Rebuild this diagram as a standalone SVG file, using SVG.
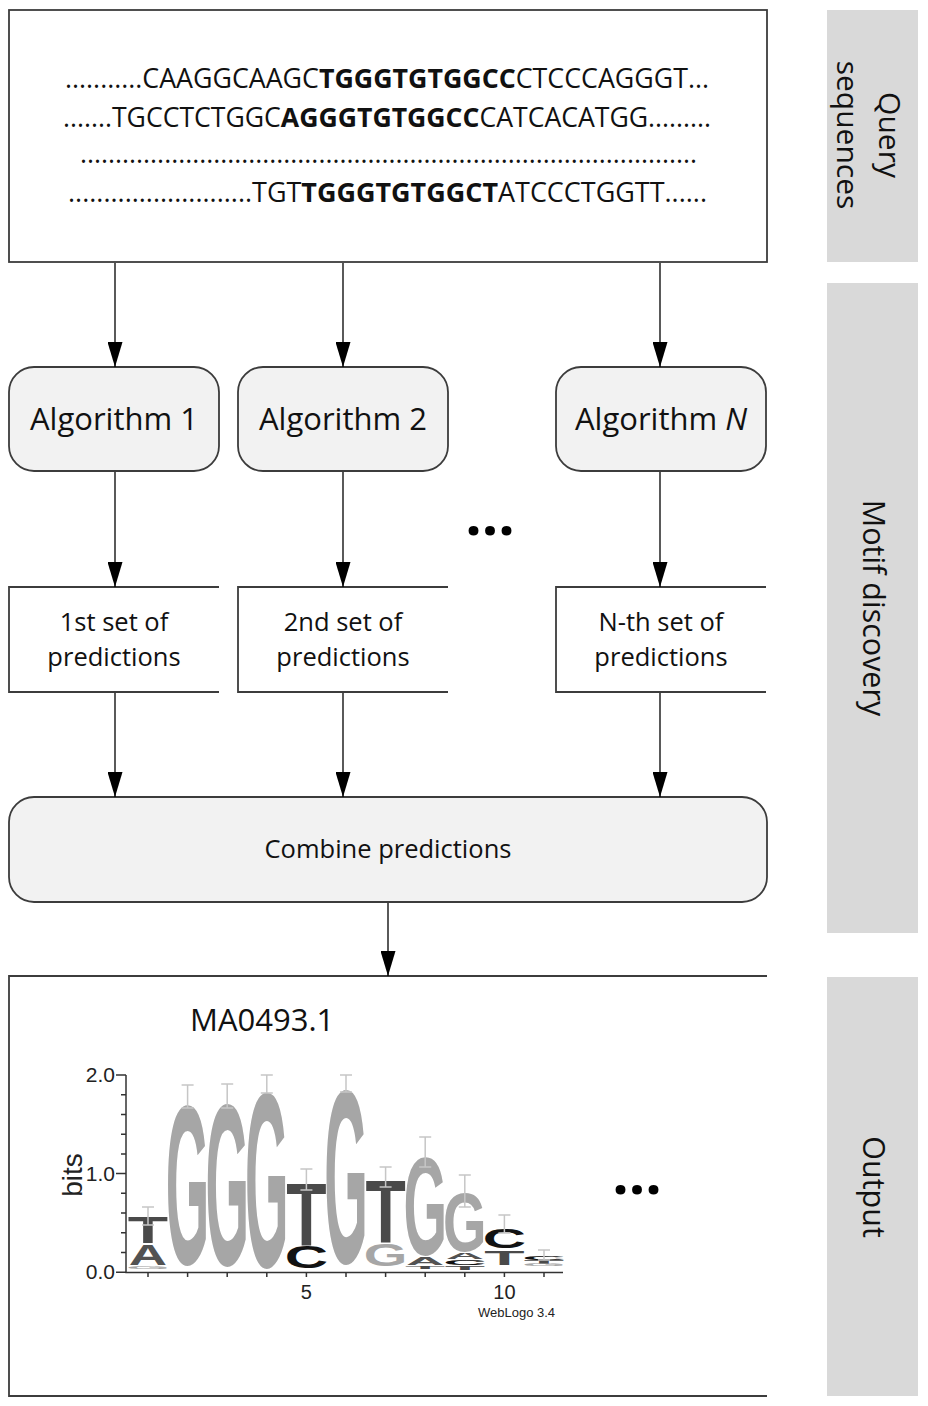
<svg xmlns="http://www.w3.org/2000/svg" width="928" height="1406" viewBox="0 0 928 1406">
<defs>
<style>
.box{fill:#fff;stroke:#3c3c3c;stroke-width:1.8}
.rbox{fill:#f2f2f2;stroke:#3c3c3c;stroke-width:1.8}
.open{fill:none;stroke:#3c3c3c;stroke-width:1.8}
.side{fill:#d9d9d9}
.t{font-family:"Open Sans","Noto Sans",sans-serif;fill:#111}
.mid{text-anchor:middle}
.conn{stroke:#000;stroke-width:1.3;fill:none;marker-end:url(#ah)}
.lg{font-family:"Liberation Sans",Arial,sans-serif;font-weight:bold;font-size:100px;text-anchor:middle}
.G{fill:#a6a6a6}.T{fill:#4a4a4a}.C{fill:#121212}.A{fill:#525252}
.eb{stroke:#c6c6c6;stroke-width:1.5;fill:none}
.ax{stroke:#333;stroke-width:1.5;fill:none}
.tick{font-family:"Liberation Sans",Arial,sans-serif;fill:#222}
.dots{font-family:"Open Sans",sans-serif;font-weight:bold;font-size:58px;fill:#000;text-anchor:middle}
</style>
<marker id="ah" viewBox="0 0 25 15" refX="25" refY="7.5" markerWidth="25" markerHeight="15" markerUnits="userSpaceOnUse" orient="auto">
<path d="M0,0 L25,7.5 L0,15 z" fill="#000"/>
</marker>
</defs>
<rect width="928" height="1406" fill="#fff"/>

<g id="side-labels">
<rect class="side" x="827" y="10" width="91" height="252"/>
<rect class="side" x="827" y="283" width="91" height="650"/>
<rect class="side" x="827" y="977" width="91" height="419"/>
<text class="t mid" font-size="30" transform="translate(879,135) rotate(90)">Query</text>
<text class="t mid" font-size="30" transform="translate(837,135) rotate(90)">sequences</text>
<text class="t mid" font-size="30.5" transform="translate(863,608) rotate(90)">Motif discovery</text>
<text class="t mid" font-size="30.5" transform="translate(863,1187) rotate(90)">Output</text>
</g>

<g id="query-sequences">
<rect class="box" x="9" y="10" width="758" height="252"/>
<text class="t" x="65" y="88" font-size="26.5" textLength="644" lengthAdjust="spacingAndGlyphs">...........CAAGGCAAGC<tspan font-weight="bold">TGGGTGTGGCC</tspan>CTCCCAGGGT...</text>
<text class="t" x="63" y="127" font-size="26.5" textLength="648" lengthAdjust="spacingAndGlyphs">.......TGCCTCTGGC<tspan font-weight="bold">AGGGTGTGGCC</tspan>CATCACATGG.........</text>
<text class="t" x="80" y="163" font-size="26.5" textLength="617" lengthAdjust="spacingAndGlyphs">........................................................................................</text>
<text class="t" x="68" y="202" font-size="26.5" textLength="639" lengthAdjust="spacingAndGlyphs">..........................TGT<tspan font-weight="bold">TGGGTGTGGCT</tspan>ATCCCTGGTT......</text>
</g>

<g id="algorithm-1">
<rect class="rbox" x="9" y="367" width="210" height="104" rx="25"/>
<text class="t mid" x="114" y="430" font-size="31">Algorithm 1</text>
</g>
<g id="algorithm-2">
<rect class="rbox" x="238" y="367" width="210" height="104" rx="25"/>
<text class="t mid" x="343" y="430" font-size="31">Algorithm 2</text>
</g>
<g id="algorithm-n">
<rect class="rbox" x="556" y="367" width="210" height="104" rx="25"/>
<text class="t mid" x="661" y="430" font-size="31">Algorithm <tspan font-style="italic">N</tspan></text>
</g>

<g id="ellipsis-algorithms">
<text class="dots" x="490" y="535">...</text>
</g>

<g id="predictions-1">
<path class="open" d="M219,587 H9 V692 H219"/>
<text class="t mid" x="114" y="631" font-size="25.5">1st set of</text>
<text class="t mid" x="114" y="666" font-size="25.5">predictions</text>
</g>
<g id="predictions-2">
<path class="open" d="M448,587 H238 V692 H448"/>
<text class="t mid" x="343" y="631" font-size="25.5">2nd set of</text>
<text class="t mid" x="343" y="666" font-size="25.5">predictions</text>
</g>
<g id="predictions-n">
<path class="open" d="M766,587 H556 V692 H766"/>
<text class="t mid" x="661" y="631" font-size="25.5">N-th set of</text>
<text class="t mid" x="661" y="666" font-size="25.5">predictions</text>
</g>

<g id="combine">
<rect class="rbox" x="9" y="797" width="758" height="105" rx="25"/>
<text class="t mid" x="388" y="858" font-size="25.5">Combine predictions</text>
</g>

<g id="output">
<path class="open" d="M767,976 H9 V1396 H767"/>
<text class="t" x="190" y="1031" font-size="31">MA0493.1</text>
<text class="dots" x="637" y="1194">...</text>

<g id="weblogo">
<path class="ax" d="M126,1075 V1272.5 H563"/>
<path class="ax" d="M116,1075 H126 M116,1173.6 H126 M116,1272.2 H126 M121,1094.7 H126 M121,1114.4 H126 M121,1134.2 H126 M121,1153.9 H126 M121,1193.3 H126 M121,1213 H126 M121,1232.8 H126 M121,1252.5 H126"/>
<path class="ax" d="M148,1272 V1277 M187.6,1272 V1277 M227.2,1272 V1277 M266.8,1272 V1277 M306.4,1272 V1277 M346,1272 V1277 M385.6,1272 V1277 M425.2,1272 V1277 M464.8,1272 V1277 M504.4,1272 V1277 M544,1272 V1277"/>
<text class="tick" x="115" y="1082" font-size="21" text-anchor="end">2.0</text>
<text class="tick" x="115" y="1181" font-size="21" text-anchor="end">1.0</text>
<text class="tick" x="115" y="1279" font-size="21" text-anchor="end">0.0</text>
<text class="tick mid" x="306.4" y="1299" font-size="20">5</text>
<text class="tick mid" x="504.4" y="1299" font-size="20">10</text>
<text class="tick" x="478" y="1317" font-size="13">WebLogo 3.4</text>
<text class="tick mid" font-size="28" transform="translate(82,1175) rotate(-90)">bits</text>

<text class="lg T" transform="translate(148,1243) scale(0.66,0.363)">T</text>
<text class="lg A" transform="translate(148,1265) scale(0.53,0.293)">A</text>
<text class="lg G" transform="translate(148,1269) scale(0.56,0.04)">G</text>

<text class="lg G" transform="translate(187.6,1263.6) scale(0.56,2.267)">G</text>
<text class="lg G" transform="translate(227.2,1264.5) scale(0.56,2.307)">G</text>
<text class="lg G" transform="translate(266.8,1267.3) scale(0.56,2.48)">G</text>

<text class="lg T" transform="translate(306.4,1245) scale(0.66,0.894)">T</text>
<text class="lg C" transform="translate(306.4,1267.5) scale(0.6,0.307)">C</text>

<text class="lg G" transform="translate(346,1263.3) scale(0.56,2.467)">G</text>

<text class="lg T" transform="translate(385.6,1242) scale(0.66,0.88)">T</text>
<text class="lg G" transform="translate(385.6,1265.5) scale(0.56,0.307)">G</text>

<text class="lg G" transform="translate(425.2,1254.9) scale(0.56,1.4)">G</text>
<text class="lg A" transform="translate(425.2,1265) scale(0.53,0.112)">A</text>
<text class="lg T" transform="translate(425.2,1269) scale(0.66,0.042)">T</text>

<text class="lg G" transform="translate(464.8,1250.8) scale(0.56,0.827)">G</text>
<text class="lg A" transform="translate(464.8,1259) scale(0.53,0.084)">A</text>
<text class="lg C" transform="translate(464.8,1264.9) scale(0.6,0.08)">C</text>
<text class="lg T" transform="translate(464.8,1270) scale(0.66,0.056)">T</text>

<text class="lg C" transform="translate(504.4,1247.6) scale(0.6,0.28)">C</text>
<text class="lg T" transform="translate(504.4,1265) scale(0.66,0.21)">T</text>

<text class="lg C" transform="translate(544,1259.9) scale(0.6,0.053)">C</text>
<text class="lg T" transform="translate(544,1264) scale(0.66,0.056)">T</text>
<text class="lg G" transform="translate(544,1266) scale(0.56,0.027)">G</text>

<path class="eb" d="M142,1207 H154 M148,1207 V1225 M142,1225 H154"/>
<path class="eb" d="M181.6,1085 H193.6 M187.6,1085 V1108 M181.6,1108 H193.6"/>
<path class="eb" d="M221.2,1084 H233.2 M227.2,1084 V1108 M221.2,1108 H233.2"/>
<path class="eb" d="M260.8,1075 H272.8 M266.8,1075 V1093 M260.8,1093 H272.8"/>
<path class="eb" d="M300.4,1169 H312.4 M306.4,1169 V1190 M300.4,1190 H312.4"/>
<path class="eb" d="M340,1075 H352 M346,1075 V1092 M340,1092 H352"/>
<path class="eb" d="M379.6,1167 H391.6 M385.6,1167 V1187 M379.6,1187 H391.6"/>
<path class="eb" d="M419.2,1137 H431.2 M425.2,1137 V1167 M419.2,1167 H431.2"/>
<path class="eb" d="M458.8,1175 H470.8 M464.8,1175 V1207 M458.8,1207 H470.8"/>
<path class="eb" d="M498.4,1215 H510.4 M504.4,1215 V1233 M498.4,1233 H510.4"/>
<path class="eb" d="M538,1250 H550 M544,1250 V1260 M538,1260 H550"/>
</g>
</g>

<g id="connectors">
<line class="conn" x1="115" y1="263" x2="115" y2="367"/>
<line class="conn" x1="343" y1="263" x2="343" y2="367"/>
<line class="conn" x1="660" y1="263" x2="660" y2="367"/>
<line class="conn" x1="115" y1="472" x2="115" y2="587"/>
<line class="conn" x1="343" y1="472" x2="343" y2="587"/>
<line class="conn" x1="660" y1="472" x2="660" y2="587"/>
<line class="conn" x1="115" y1="693" x2="115" y2="797"/>
<line class="conn" x1="343" y1="693" x2="343" y2="797"/>
<line class="conn" x1="660" y1="693" x2="660" y2="797"/>
<line class="conn" x1="388" y1="903" x2="388" y2="976"/>
</g>
</svg>
